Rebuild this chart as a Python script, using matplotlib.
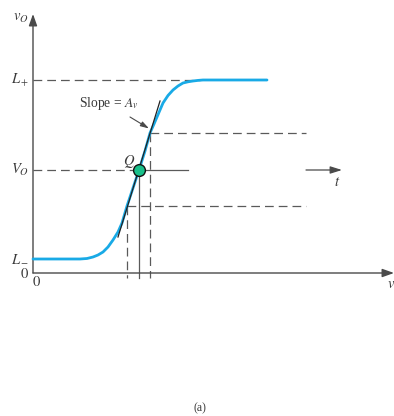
import matplotlib
matplotlib.use("Agg")
import matplotlib.pyplot as plt

plt.rcParams["mathtext.fontset"] = "stix"
plt.rcParams["font.family"] = ["Liberation Serif", "DejaVu Serif"]

# Transfer characteristic v_O versus v (arbitrary units)
v_curve = [0.0, 4.7, 5.4, 6.0, 6.5, 7.0, 7.5, 8.0, 8.5, 8.9, 9.4, 10.0, 10.6,
           11.2, 11.7, 12.1, 12.4, 12.7, 13.0, 13.5, 14.0, 14.5, 15.0, 15.5,
           16.0, 16.5, 17.0, 23.4]
vo_curve = [1.4, 1.4, 1.45, 1.6, 1.8, 2.1, 2.6, 3.3, 4.1, 5.0, 6.7, 8.5, 10.3,
            12.2, 14.0, 14.9, 15.6, 16.3, 17.0, 17.75, 18.3, 18.7, 19.0, 19.12,
            19.2, 19.26, 19.3, 19.3]

L_minus = 1.4
L_plus = 19.3
V_O = 10.3
v_Q = 10.6
v_low, vo_low = 9.4, 6.7
v_high, vo_high = 11.7, 14.0
tangent_v = [8.5, 12.7]
tangent_vo = [3.6, 17.2]

curve_color = "#19aae6"
axis_color = "#4a4a4a"
dash_color = "#5a5a5a"
text_color = "#3a3a3a"

fig = plt.figure(figsize=(3.94, 4.16), dpi=100)
ax = fig.add_axes([0, 0, 1, 1])
ax.set_xlim(-3.3, 36.1)
ax.set_ylim(-14.3, 27.3)
ax.axis("off")

dash = dict(color=dash_color, lw=0.9, dashes=(7, 4))

# Axes with arrow heads
ax.annotate("", xy=(0, 25.9), xytext=(0, 0),
            arrowprops=dict(arrowstyle="-|>,head_length=0.7,head_width=0.25",
                            color=axis_color, lw=1.0, shrinkA=0, shrinkB=0))
ax.annotate("", xy=(36.1, 0), xytext=(0, 0),
            arrowprops=dict(arrowstyle="-|>,head_length=0.7,head_width=0.25",
                            color=axis_color, lw=1.0, shrinkA=0, shrinkB=0))

# Guide lines
ax.plot([0, 16.7], [L_plus, L_plus], **dash)
ax.plot([0, v_Q], [V_O, V_O], **dash)
ax.plot([v_Q, 15.5], [V_O, V_O], color=dash_color, lw=0.9)
ax.plot([v_high, 27.3], [vo_high, vo_high], **dash)
ax.plot([v_low, 27.3], [vo_low, vo_low], **dash)
ax.plot([v_low, v_low], [vo_low, -0.5], **dash)
ax.plot([v_high, v_high], [vo_high, -0.5], **dash)
ax.plot([v_Q, v_Q], [V_O, -0.5], color=dash_color, lw=0.9)

# Time axis arrow for the output signal
ax.annotate("", xy=(30.9, V_O), xytext=(27.3, V_O),
            arrowprops=dict(arrowstyle="-|>,head_length=0.7,head_width=0.22",
                            color=axis_color, lw=0.9, shrinkA=0, shrinkB=0))

# Characteristic and tangent at Q
ax.plot(v_curve, vo_curve, color=curve_color, lw=2.0, solid_joinstyle="round",
        solid_capstyle="round", zorder=3)
ax.plot(tangent_v, tangent_vo, color="#222222", lw=0.9, zorder=4)
ax.plot([v_Q], [V_O], marker="o", ms=8.5, mfc="#19c08a", mec="#111111",
        mew=1.0, zorder=5)

# Slope annotation
ax.annotate("", xy=(11.6, 14.45), xytext=(9.7, 15.6),
            arrowprops=dict(arrowstyle="-|>,head_length=0.5,head_width=0.15",
                            color=axis_color, lw=0.8, shrinkA=0, shrinkB=0))
ax.text(10.6, 16.9, r"Slope = $A_v$", ha="right", va="center", fontsize=9.8,
        color=text_color)

# Labels
fs = 10.5
ax.text(-0.4, 25.5, r"$v_O$", ha="right", va="center", fontsize=fs, color=text_color)
ax.text(-0.4, L_plus, r"$L_+$", ha="right", va="center", fontsize=fs, color=text_color)
ax.text(-0.4, V_O, r"$V_O$", ha="right", va="center", fontsize=fs, color=text_color)
ax.text(-0.4, L_minus, r"$L_-$", ha="right", va="center", fontsize=fs, color=text_color)
ax.text(-0.4, -0.1, r"$0$", ha="right", va="center", fontsize=fs, color=text_color)
ax.text(0.4, -0.9, r"$0$", ha="center", va="center", fontsize=fs, color=text_color)
ax.text(35.8, -1.1, r"$v$", ha="center", va="center", fontsize=fs, color=text_color)
ax.text(30.4, 9.0, r"$t$", ha="center", va="center", fontsize=fs, color=text_color)
ax.text(9.6, 11.1, r"$Q$", ha="center", va="center", fontsize=fs, color=text_color)
ax.text(16.7, -13.5, "(a)", ha="center", va="center", fontsize=8.5, color=text_color)

fig.savefig("out.png", dpi=100)
